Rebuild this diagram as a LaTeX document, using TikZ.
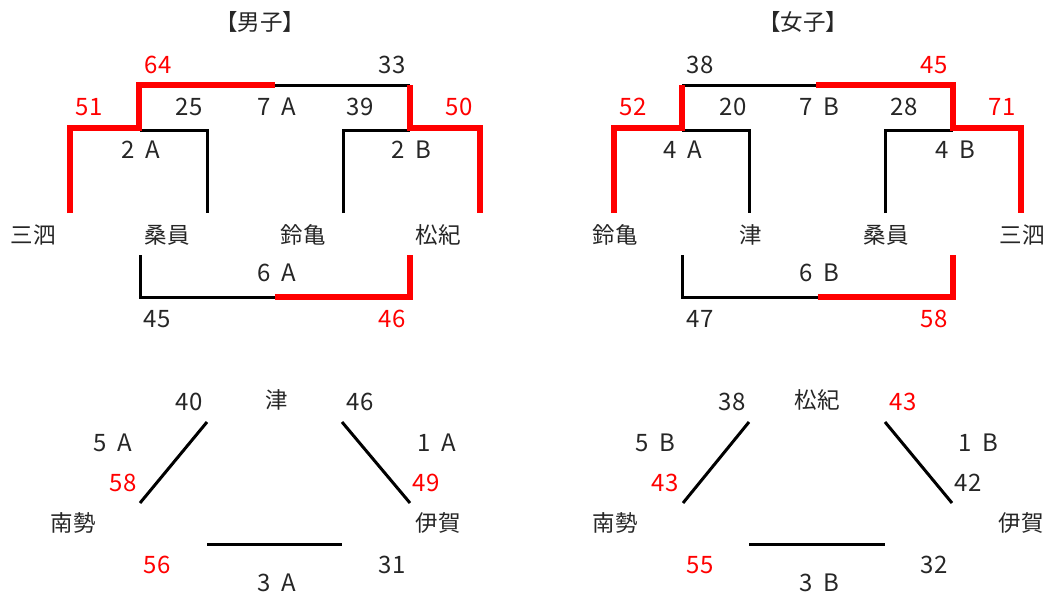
\documentclass[tikz,border=0pt]{standalone}
\usepackage{fontspec}
\setmainfont{Noto Sans CJK JP}
\definecolor{txt}{gray}{0.15}
\begin{document}
\begin{tikzpicture}[x=1pt,y=-1pt,
  lbl/.style={inner sep=0pt,text=txt,font=\fontsize{24}{28}\selectfont},
  tname/.style={inner sep=0pt,text=txt,font=\fontsize{22.5}{26}\selectfont},
  win/.style={lbl,text=red},
  blk/.style={line width=3pt,black},
  wred/.style={line width=5.5pt,red}]
\useasboundingbox (0,0) rectangle (1050,597);
\def\g{\hspace{0.45em}}
% ===== Men =====
\node[tname] (tm) at (260,22) {【男子】};
\node[tname] (m1) at (33,235) {三泗};
\node[tname] (m2) at (167,235) {桑員};
\node[tname] (m3) at (303,235) {鈴亀};
\node[tname] (m4) at (438,235) {松紀};
\draw[blk] (140,130) -- (207,130) -- (207,213);
\draw[blk] (343,213) -- (343,130) -- (410,130);
\draw[blk] (273,85) -- (410,85);
\draw[wred] (70,213) -- (70,128) -- (139,128) -- (139,85) -- (275,85);
\draw[wred] (410,85) -- (410,128) -- (480,128) -- (480,213);
\draw[blk] (140,255) -- (140,297) -- (275,297);
\draw[wred] (275,297) -- (410,297) -- (410,255);
\node[win] (s64) at (158,65) {64};
\node[win] (s51) at (89,107) {51};
\node[lbl] (s25) at (189,107) {25};
\node[lbl] (r7a) at (277,107) {7\g A};
\node[lbl] (s39) at (360,107) {39};
\node[lbl] (s33) at (392,65) {33};
\node[win] (s50) at (459,107) {50};
\node[lbl] (r2a) at (141,150) {2\g A};
\node[lbl] (r2b) at (411,150) {2\g B};
\node[lbl] (r6a) at (277,273) {6\g A};
\node[lbl] (s45) at (157,319) {45};
\node[win] (s46) at (392,319) {46};
% men bottom
\node[tname] (m5) at (277,400) {津};
\node[tname] (m6) at (73,523) {南勢};
\node[tname] (m7) at (438,523) {伊賀};
\draw[blk] (140,503) -- (207,422);
\draw[blk] (342,422) -- (410,503);
\draw[blk] (207,544) -- (342,544);
\node[lbl] (s40) at (189,402) {40};
\node[lbl] (s46b) at (360,402) {46};
\node[lbl] (r5a) at (113,443) {5\g A};
\node[lbl] (r1a) at (437,443) {1\g A};
\node[win] (s58) at (123,483) {58};
\node[win] (s49) at (426,483) {49};
\node[win] (s56) at (157,565) {56};
\node[lbl] (s31) at (392,565) {31};
\node[lbl] (r3a) at (277,583) {3\g A};
% ===== Women =====
\node[tname] (tw) at (803,22) {【女子】};
\node[tname] (w1) at (615,235) {鈴亀};
\node[tname] (w2) at (751,235) {津};
\node[tname] (w3) at (886,235) {桑員};
\node[tname] (w4) at (1022,235) {三泗};
\draw[blk] (682,130) -- (749,130) -- (749,213);
\draw[blk] (885,213) -- (885,130) -- (953,130);
\draw[blk] (682,85) -- (818,85);
\draw[wred] (614,213) -- (614,128) -- (682,128) -- (682,85);
\draw[wred] (816,85) -- (953,85) -- (953,128) -- (1021,128) -- (1021,213);
\draw[blk] (682,255) -- (682,297) -- (818,297);
\draw[wred] (818,297) -- (953,297) -- (953,255);
\node[lbl] (t38) at (700,65) {38};
\node[win] (t52) at (633,107) {52};
\node[lbl] (t20) at (733,107) {20};
\node[lbl] (r7b) at (819,107) {7\g B};
\node[lbl] (t28) at (904,107) {28};
\node[win] (t45) at (934,65) {45};
\node[win] (t71) at (1002,107) {71};
\node[lbl] (r4a) at (683,150) {4\g A};
\node[lbl] (r4b) at (955,150) {4\g B};
\node[lbl] (r6b) at (819,273) {6\g B};
\node[lbl] (t47) at (700,319) {47};
\node[win] (t58) at (934,319) {58};
% women bottom
\node[tname] (w5) at (817,400) {松紀};
\node[tname] (w6) at (615,523) {南勢};
\node[tname] (w7) at (1021,523) {伊賀};
\draw[blk] (683,503) -- (749,422);
\draw[blk] (885,422) -- (952,503);
\draw[blk] (749,544) -- (885,544);
\node[lbl] (t38b) at (732,402) {38};
\node[win] (t43) at (903,402) {43};
\node[lbl] (r5b) at (655,443) {5\g B};
\node[lbl] (r1b) at (978,443) {1\g B};
\node[win] (t43b) at (665,483) {43};
\node[lbl] (t42) at (968,483) {42};
\node[win] (t55) at (700,565) {55};
\node[lbl] (t32) at (934,565) {32};
\node[lbl] (r3b) at (819,583) {3\g B};
\end{tikzpicture}
\end{document}
